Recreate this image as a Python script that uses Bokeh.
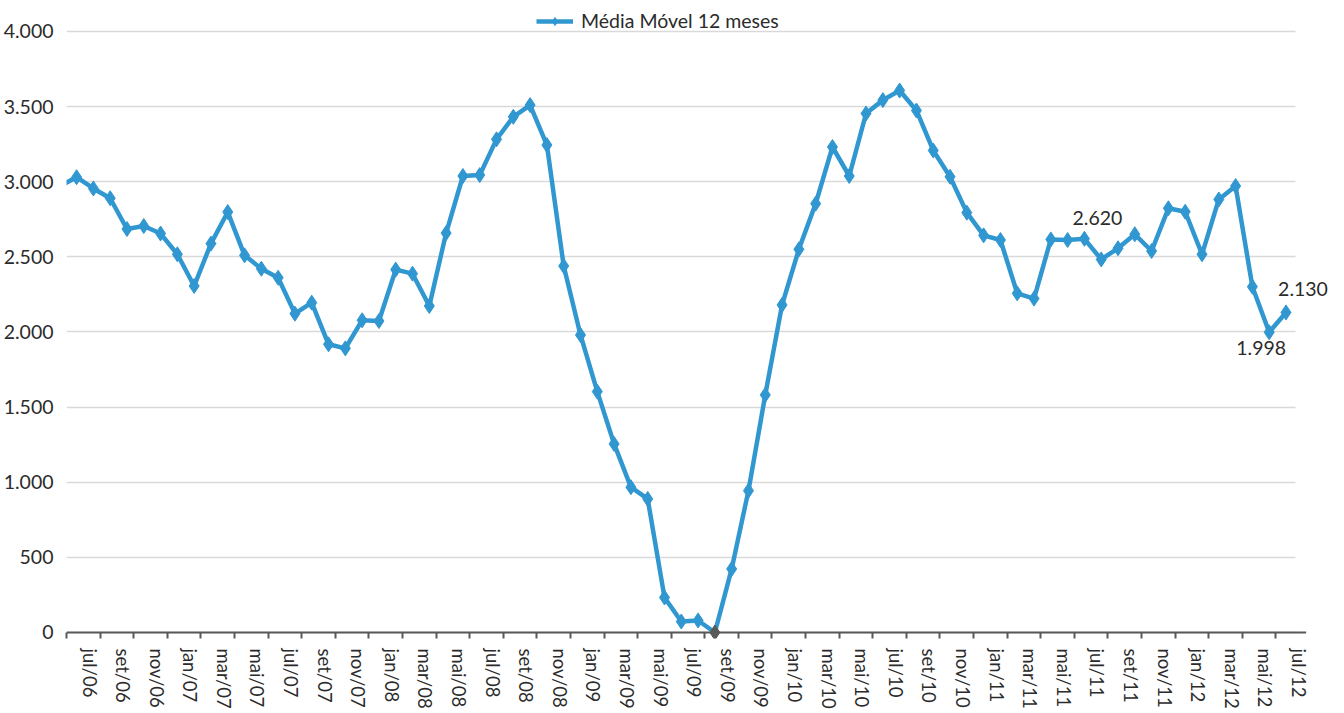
from bokeh.plotting import figure
from bokeh.models import (ColumnDataSource, Range1d, FixedTicker, Legend,
                          LegendItem)
from bokeh.core.properties import value
from bokeh.embed import file_html
from bokeh.resources import INLINE

# ---------------- data ----------------
month_abbr = ["jan", "fev", "mar", "abr", "mai", "jun",
              "jul", "ago", "set", "out", "nov", "dez"]
start_month = 6          # jun (1-based)
start_year = 2006
series_name = "Média Móvel 12 meses"
# 12-month moving average, jun/06 .. jul/12
media_movel = [
    2970, 3030, 2955, 2890, 2685, 2705, 2655,                          # 2006
    2517, 2306, 2588, 2798, 2510, 2421, 2361, 2122, 2195, 1918, 1891, 2078,  # 2007
    2073, 2415, 2388, 2173, 2658, 3038, 3044, 3282, 3432, 3510, 3244, 2439,  # 2008
    1980, 1603, 1255, 967, 889, 233, 73, 80, 0, 423, 944, 1581,        # 2009
    2180, 2550, 2854, 3231, 3038, 3454, 3543, 3607, 3474, 3208, 3033, 2794,  # 2010
    2643, 2612, 2257, 2222, 2616, 2612, 2620, 2483, 2557, 2650, 2539, 2823,  # 2011
    2800, 2517, 2882, 2971, 2301, 1998, 2130,                          # 2012
]
annotated_months = ["jul/11", "jun/12", "jul/12"]
y_ticks = [0, 500, 1000, 1500, 2000, 2500, 3000, 3500, 4000]

# ---------------- derived ----------------
def fmt(v):
    return f"{v:,}".replace(",", ".")

categories = []
for k in range(len(media_movel)):
    m = (start_month - 1 + k) % 12
    y = start_year + (start_month - 1 + k) // 12
    categories.append(f"{month_abbr[m]}/{str(y)[2:]}")

# x position: jul/06 = 0 (jun/06 = -1, clipped at the left edge as in the original)
xs = [k - 1 for k in range(len(media_movel))]

BLUE = "#3197D1"
GRAY = "#595959"
TXT = "#2b2b2b"
FONT = value("Lato")
FS = "19.5px"
FS_X = "18.5px"

X0, X_AXIS_END, X_GRID_END, X1 = -0.6, 73.2, 72.55, 74.65
Y0, Y1 = -40, 4206

marker_colors = [GRAY if v == 0 else BLUE for v in media_movel]
src = ColumnDataSource(dict(x=xs, y=media_movel, cat=categories, c=marker_colors))

p = figure(width=1340, height=712,
           x_range=Range1d(X0, X1), y_range=Range1d(Y0, Y1),
           output_backend="svg", toolbar_location=None,
           min_border_left=62, min_border_right=10,
           min_border_top=0, min_border_bottom=74,
           outline_line_color=None, background_fill_color="white")

# grid
p.xgrid.visible = False
p.ygrid.grid_line_color = "#d9d9d9"
p.ygrid.grid_line_width = 1.5
p.ygrid.cross_bounds = (X0, X_GRID_END)

# zero axis line (category axis line)
p.segment(x0=[X0], y0=[0], x1=[X_AXIS_END], y1=[0], line_color=GRAY,
          line_width=2)

line_r = p.line("x", "y", source=src, line_color=BLUE, line_width=4.5,
                line_join="round")
pts_r = p.scatter("x", "y", source=src, marker="diamond", size=15,
                  fill_color="c", line_color="c")

# data labels
lab_idx = [categories.index(c) for c in annotated_months]
lab_dx = [13, -8, 17]
lab_dy = [-21, 16, -23]
lab_src = ColumnDataSource(dict(
    x=[xs[i] for i in lab_idx],
    y=[media_movel[i] for i in lab_idx],
    t=[fmt(media_movel[i]) for i in lab_idx],
    dx=lab_dx, dy=lab_dy))
p.text("x", "y", text="t", source=lab_src, x_offset="dx", y_offset="dy",
       text_font=FONT, text_font_size=FS, text_color=TXT,
       text_align="center", text_baseline="middle")

# y axis
yax = p.yaxis[0]
yax.ticker = FixedTicker(ticks=y_ticks)
yax.major_label_overrides = {v: fmt(v) for v in y_ticks}
yax.axis_line_color = None
yax.major_tick_line_color = None
yax.minor_tick_line_color = None
yax.major_label_standoff = 7
yax.major_label_text_font = "Lato"
yax.major_label_text_font_size = FS
yax.major_label_text_color = TXT

# x axis: labels every two months, tick marks at the boundaries
label_idx = list(range(1, len(categories), 2))      # jul/06, set/06, ...
label_pos = [xs[i] + 0.77 for i in label_idx]
bound_pos = [xs[i] - 0.6 for i in label_idx]
xax = p.xaxis[0]
xax.ticker = FixedTicker(ticks=label_pos, minor_ticks=bound_pos)
xax.major_label_overrides = {pos: categories[i] for pos, i in zip(label_pos, label_idx)}
xax.axis_line_color = None
xax.major_tick_in = 0
xax.major_tick_out = 0
xax.minor_tick_in = 6
xax.minor_tick_out = 0
xax.minor_tick_line_color = GRAY
xax.minor_tick_line_width = 2
xax.major_label_orientation = "vertical"
xax.major_label_standoff = 10
xax.major_label_text_font = "Lato"
xax.major_label_text_font_size = FS_X
xax.major_label_text_color = TXT

# legend (top of the plotting area, above the 4.000 gridline)
legend = Legend(items=[LegendItem(label=series_name, renderers=[line_r, pts_r])],
                orientation="horizontal", location=(470, 606),
                padding=0, margin=0, glyph_width=37, glyph_height=20,
                label_standoff=8, border_line_color=None,
                background_fill_alpha=0,
                label_text_font="Lato", label_text_font_size=FS,
                label_text_color=TXT)
p.add_layout(legend, "center")

open("out.html", "w").write(file_html(p, INLINE))
